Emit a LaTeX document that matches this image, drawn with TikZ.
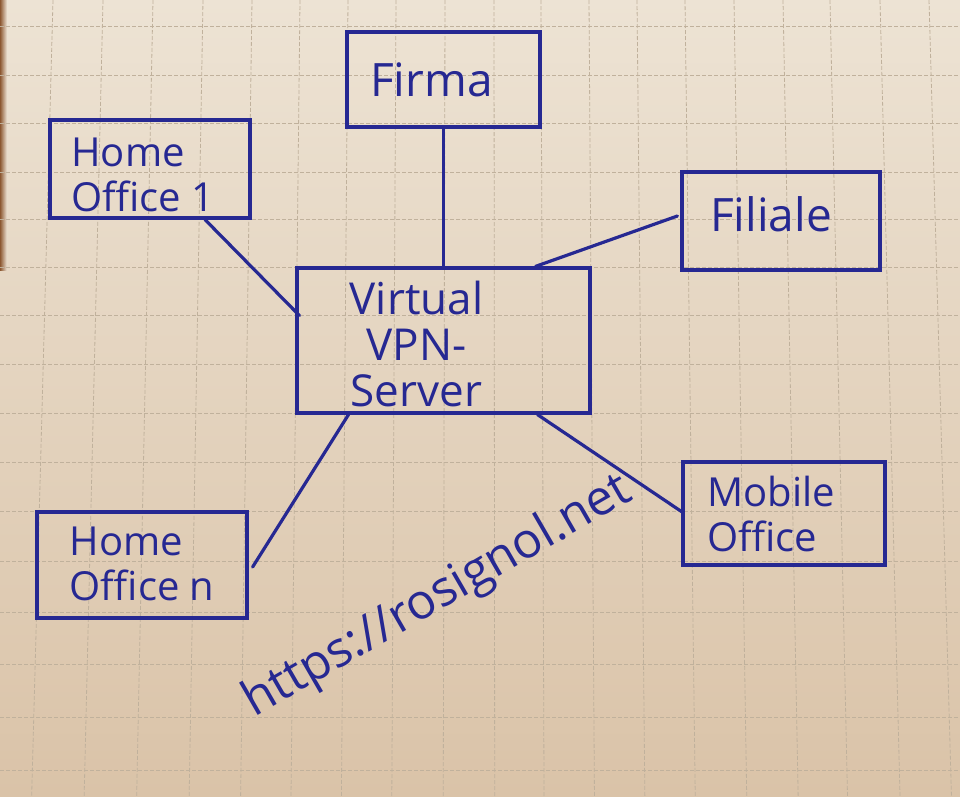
\documentclass[tikz,border=0pt]{standalone}
\usepackage{fontspec}
\setmainfont{Open Sans}
\usepackage{xcolor}
\usetikzlibrary{calc}
\definecolor{ink}{RGB}{38,40,146}
\definecolor{paper}{RGB}{237,227,212}
\definecolor{paperdark}{RGB}{218,195,168}
\definecolor{gridline}{RGB}{192,177,156}
\definecolor{desk}{RGB}{140,88,50}
\tikzset{box/.style={draw=ink, line width=3.2pt, text=ink, inner sep=0pt, font=\fontsize{40}{45}\selectfont}}
\tikzset{wire/.style={draw=ink, line width=3.2pt, line cap=round}}
\tikzset{gridrule/.style={draw=gridline, line width=0.8pt, dash pattern=on 4pt off 2pt}}
% shift handwriting inside a box without changing the box
\newcommand{\shifted}[2]{\raisebox{#1}[\height][\depth]{#2}}

\begin{document}
\begin{tikzpicture}[x=1pt, y=-1pt]
    \useasboundingbox (0,0) rectangle (960,796);
    \shade [top color=paper, bottom color=paperdark] (0,0) rectangle (960,796);
    \shade [left color=desk, right color=paper] (0,0) rectangle (7,270);

    % squared paper
    \foreach \gx in {53,103,153,203,252,300,348,396,445,494,541,589,637,685,734,783,830,880,929}
        \draw [gridrule] (\gx,0) -- ({480+(\gx-480)*1.05},796);
    \foreach \gy in {26,75,123,172,219,267,315,364,413,462,511,561,612,664,717,770}
        \draw [gridrule] (0,\gy) -- (960,\gy);

    \node [box, minimum width=193pt, minimum height=95pt, font=\fontsize{46}{50}\selectfont] (firma) at (443.5,79.5) {Firma\hspace*{24pt}};
    \node [box, minimum width=200pt, minimum height=98pt] (home1) at (150,169)
        {\shifted{-11pt}{\begin{tabular}{@{}l@{\hspace{14pt}}}Home\\Office 1\end{tabular}}};
    \node [box, minimum width=198pt, minimum height=98pt, font=\fontsize{46}{50}\selectfont] (filiale) at (781,221)
        {\shifted{7pt}{Filiale\hspace*{20pt}}};
    \node [box, minimum width=293pt, minimum height=145pt, font=\fontsize{44}{46}\selectfont] (vpn) at (443.5,340.5)
        {\shifted{-10pt}{\begin{tabular}{@{}c@{\hspace{54pt}}}Virtual\\VPN-\\Server\end{tabular}}};
    \node [box, minimum width=210pt, minimum height=106pt] (homen) at (142,565)
        {\shifted{-4pt}{\begin{tabular}{@{}l@{}}Home\\Office n\end{tabular}}};
    \node [box, minimum width=202pt, minimum height=103pt, align=left] (mobile) at (784,513.5) {Mobile\hspace*{26pt}\\Office};

    \node [text=ink, rotate=30, font=\fontsize{49}{52}\selectfont] (url) at (438,597) {https://rosignol.net};

    \draw [wire] (firma.south) -- (firma.south |- vpn.north);
    \draw [wire] ($(home1.south)+(55,0)$) -- ($(vpn.west)+(4,-25)$);
    \draw [wire] ($(filiale.west)+(-3,-5)$) -- ($(vpn.north)+(92,0)$);
    \draw [wire] ($(vpn.south)+(-95,0)$) -- ($(homen.east)+(4,2)$);
    \draw [wire] ($(vpn.south)+(94,0)$) -- ($(mobile.west)+(0,-2)$);
\end{tikzpicture}
\end{document}
